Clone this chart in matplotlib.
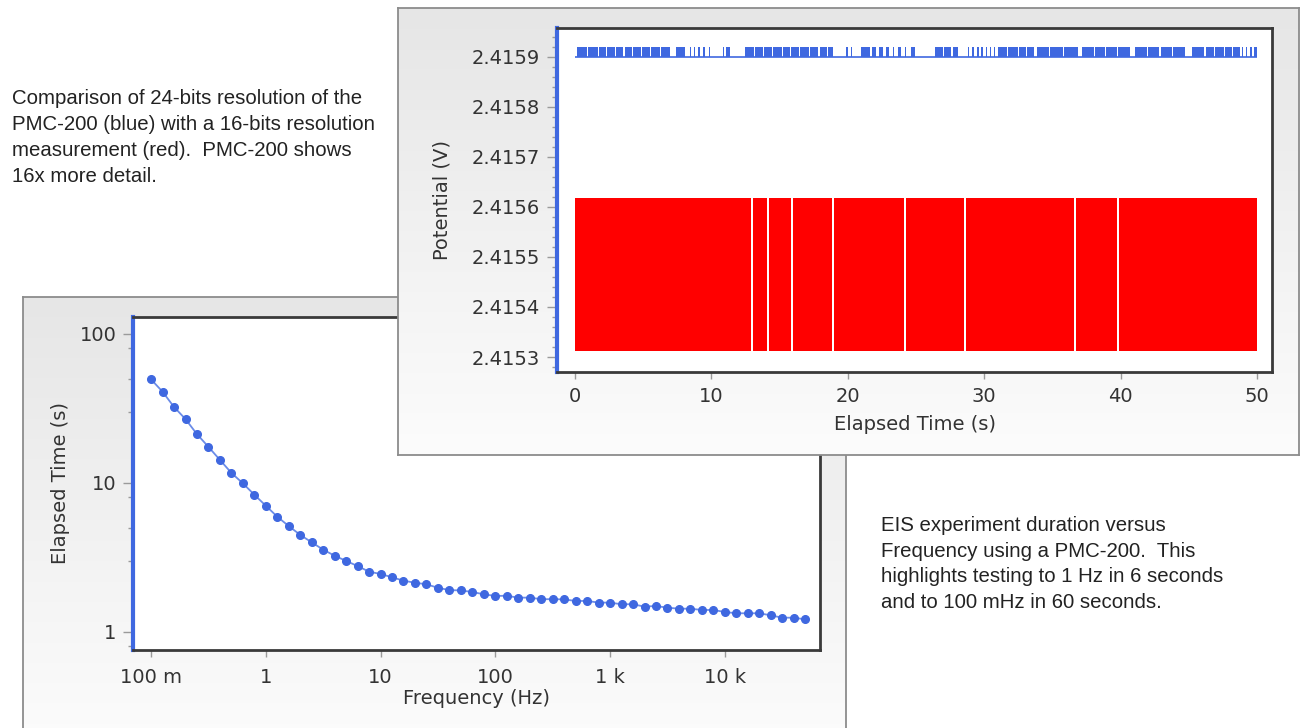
import numpy as np
import matplotlib
matplotlib.use("Agg")
import matplotlib.pyplot as plt
from matplotlib.colors import LinearSegmentedColormap
from matplotlib.ticker import FixedLocator, NullFormatter, AutoMinorLocator, LogLocator

# ---- data: EIS duration vs frequency (bottom-left chart) ----
freq_hz = [
    0.1, 0.126, 0.158, 0.2, 0.251, 0.316, 0.398, 0.501, 0.631, 0.794,
    1.0, 1.26, 1.58, 2.0, 2.51, 3.16, 3.98, 5.01, 6.31, 7.94,
    10.0, 12.6, 15.8, 20.0, 25.1, 31.6, 39.8, 50.1, 63.1, 79.4,
    100.0, 126.0, 158.0, 200.0, 251.0, 316.0, 398.0, 501.0, 631.0, 794.0,
    1000.0, 1260.0, 1580.0, 2000.0, 2510.0, 3160.0, 3980.0, 5010.0, 6310.0, 7940.0,
    10000.0, 12600.0, 15800.0, 20000.0, 25100.0, 31600.0, 39800.0, 50100.0,
]
elapsed_s = [
    49.6, 41.0, 32.5, 26.8, 21.3, 17.5, 14.3, 11.7, 9.95, 8.35,
    7.04, 5.94, 5.15, 4.48, 4.0, 3.57, 3.25, 3.0, 2.77, 2.54,
    2.45, 2.33, 2.21, 2.14, 2.09, 1.98, 1.91, 1.90, 1.855, 1.79,
    1.745, 1.75, 1.70, 1.70, 1.66, 1.66, 1.655, 1.615, 1.615, 1.575,
    1.573, 1.535, 1.535, 1.48, 1.494, 1.456, 1.433, 1.433, 1.405, 1.405,
    1.362, 1.335, 1.335, 1.335, 1.294, 1.247, 1.247, 1.216,
]
freq_ticks = [0.1, 1, 10, 100, 1000, 10000]
freq_labels = ["100 m", "1", "10", "100", "1 k", "10 k"]
time_ticks = [1, 10, 100]

# ---- data: 24-bit vs 16-bit resolution (top chart) ----
t_start, t_end = 0.0, 50.0
blue_low, blue_high = 2.41590, 2.41592
red_low, red_high = 2.415312, 2.415618
red_gap_times = [12.98, 14.15, 15.9, 18.9, 24.2, 28.6, 36.66, 39.8]
blue_starts = [
    0.15, 0.98, 1.78, 2.38, 2.98, 3.63, 4.28, 4.93, 5.58, 6.28,
    7.4, 8.4, 8.7, 9.05, 9.4, 9.8, 10.85, 11.05,
    12.45, 13.23, 13.88, 14.53, 15.23, 15.83, 16.53, 17.23, 17.93, 18.53,
    19.9, 20.2, 21.0, 21.8, 22.3, 22.8, 23.3, 23.7, 24.2, 24.6,
    26.4, 27.08, 27.68, 28.8, 29.1, 29.5, 29.8, 30.1, 30.4, 30.7,
    31.0, 31.73, 32.53, 33.13, 33.9, 34.83, 35.88,
    37.2, 38.13, 38.93, 39.83, 41.05, 42.03, 42.93, 43.83,
    45.2, 46.23, 46.93, 47.68, 48.23, 48.9, 49.2, 49.5, 49.8,
]
blue_ends = [
    0.9, 1.7, 2.3, 2.9, 3.55, 4.2, 4.85, 5.5, 6.2, 7.0,
    8.1, 8.5, 8.8, 9.15, 9.5, 9.9, 10.95, 11.35,
    13.15, 13.8, 14.45, 15.15, 15.75, 16.45, 17.15, 17.85, 18.45, 18.9,
    20.0, 20.3, 21.6, 22.1, 22.6, 23.0, 23.4, 23.9, 24.3, 24.9,
    27.0, 27.6, 28.1, 28.9, 29.25, 29.6, 29.9, 30.2, 30.5, 30.8,
    31.65, 32.45, 33.05, 33.65, 34.75, 35.8, 36.9,
    38.05, 38.85, 39.75, 40.7, 41.95, 42.85, 43.75, 44.7,
    46.15, 46.85, 47.6, 48.15, 48.75, 49.0, 49.3, 49.6, 50.0,
]
volt_ticks = [2.4153, 2.4154, 2.4155, 2.4156, 2.4157, 2.4158, 2.4159]

left_note = [
    "Comparison of 24-bits resolution of the",
    "PMC-200 (blue) with a 16-bits resolution",
    "measurement (red).  PMC-200 shows",
    "16x more detail.",
]
right_note = [
    "EIS experiment duration versus",
    "Frequency using a PMC-200.  This",
    "highlights testing to 1 Hz in 6 seconds",
    "and to 100 mHz in 60 seconds.",
]

BLUE = "#3f68e0"
RED = "#ff0000"
TICK_GRAY = "#9a9a9a"
LABEL = "#333333"
W, H = 1300, 728


def px_box(x0, y0, x1, y1):
    return [x0 / W, 1 - y1 / H, (x1 - x0) / W, (y1 - y0) / H]


def panel(fig, box, z):
    bg = fig.add_axes(px_box(*box), zorder=z)
    cmap = LinearSegmentedColormap.from_list("g", ["#e6e6e6", "#fcfcfc"])
    bg.imshow(np.linspace(0, 1, 256).reshape(-1, 1), aspect="auto",
              cmap=cmap, extent=[0, 1, 0, 1])
    bg.set_xticks([])
    bg.set_yticks([])
    for s in bg.spines.values():
        s.set_color("#8c8c8c")
        s.set_linewidth(1.3)
    return bg


def style_axes(ax):
    ax.set_facecolor("white")
    ax.spines["left"].set_color(BLUE)
    ax.spines["left"].set_linewidth(3)
    for side in ("top", "right", "bottom"):
        ax.spines[side].set_color("#3a3a3a")
        ax.spines[side].set_linewidth(2)
    ax.tick_params(which="both", color=TICK_GRAY, labelcolor=LABEL,
                   labelsize=14, direction="out")
    ax.tick_params(which="major", length=7, width=1)
    ax.tick_params(which="minor", length=3.5, width=1)


fig = plt.figure(figsize=(13, 7.28), dpi=100)
fig.patch.set_facecolor("white")

# ---- bottom-left panel: elapsed time vs frequency ----
panel(fig, (23, 297, 846, 745), 1)
ax1 = fig.add_axes(px_box(133, 317, 820, 650), zorder=2)
style_axes(ax1)
ax1.plot(freq_hz, elapsed_s, color="#6b8ce8", lw=1.3, marker="o",
         markersize=5.5, markerfacecolor=BLUE, markeredgecolor=BLUE)
ax1.set_xscale("log")
ax1.set_yscale("log")
ax1.set_xlim(10 ** -1.157, 10 ** 4.83)
ax1.set_ylim(10 ** -0.121, 10 ** 2.114)
ax1.xaxis.set_major_locator(FixedLocator(freq_ticks))
ax1.set_xticklabels(freq_labels)
ax1.xaxis.set_minor_locator(FixedLocator([]))
ax1.yaxis.set_major_locator(FixedLocator(time_ticks))
ax1.set_yticklabels([str(v) for v in time_ticks])
ax1.yaxis.set_minor_locator(LogLocator(base=10, subs=(3.0, 5.0, 8.0)))
ax1.yaxis.set_minor_formatter(NullFormatter())
ax1.tick_params(axis="x", which="major", length=5, pad=8)
ax1.tick_params(axis="y", pad=5)
ax1.set_xlabel("Frequency (Hz)", fontsize=14, color=LABEL)
ax1.set_ylabel("Elapsed Time (s)", fontsize=14, color=LABEL)
ax1.xaxis.set_label_coords(0.5, -0.118)
ax1.yaxis.set_label_coords(-0.092, 0.5)

# ---- top-right panel: potential vs elapsed time ----
panel(fig, (398, 8, 1299, 455), 3)
ax2 = fig.add_axes(px_box(557, 28, 1272, 372), zorder=4)
style_axes(ax2)

red_edges = [t_start] + red_gap_times + [t_end]
red_spans = []
for i in range(len(red_edges) - 1):
    a = red_edges[i] + (0.06 if i > 0 else 0)
    b = red_edges[i + 1] - (0.06 if i < len(red_edges) - 2 else 0)
    red_spans.append((a, b - a))
ax2.broken_barh(red_spans, (red_low, red_high - red_low), facecolors=RED,
                edgecolor="none")

blue_spans = [(s, e - s) for s, e in zip(blue_starts, blue_ends)]
ax2.broken_barh(blue_spans, (blue_low, blue_high - blue_low), facecolors=BLUE,
                edgecolor="none")
ax2.hlines(blue_low, t_start, t_end, color=BLUE, lw=1.2)

ax2.set_xlim(-1.32, 51.1)
ax2.set_ylim(2.41527, 2.415958)
ax2.xaxis.set_major_locator(FixedLocator([0, 10, 20, 30, 40, 50]))
ax2.yaxis.set_major_locator(FixedLocator(volt_ticks))
ax2.set_yticklabels([f"{v:.4f}" for v in volt_ticks])
ax2.yaxis.set_minor_locator(AutoMinorLocator(5))
ax2.tick_params(axis="x", which="major", length=5, pad=6)
ax2.tick_params(axis="y", pad=5)
ax2.set_xlabel("Elapsed Time (s)", fontsize=14, color=LABEL)
ax2.set_ylabel("Potential (V)", fontsize=14, color=LABEL)
ax2.xaxis.set_label_coords(0.5, -0.125)
ax2.yaxis.set_label_coords(-0.148, 0.5)

# ---- notes ----
for i, line in enumerate(left_note):
    fig.text(12 / W, 1 - (104 + 26 * i) / H, line, fontsize=14.7,
             family="Liberation Sans", color="#222222", va="baseline")
for i, line in enumerate(right_note):
    fig.text(881 / W, 1 - (531 + 25.7 * i) / H, line, fontsize=14.7,
             family="Liberation Sans", color="#222222", va="baseline")

fig.savefig("out.png", dpi=100)
